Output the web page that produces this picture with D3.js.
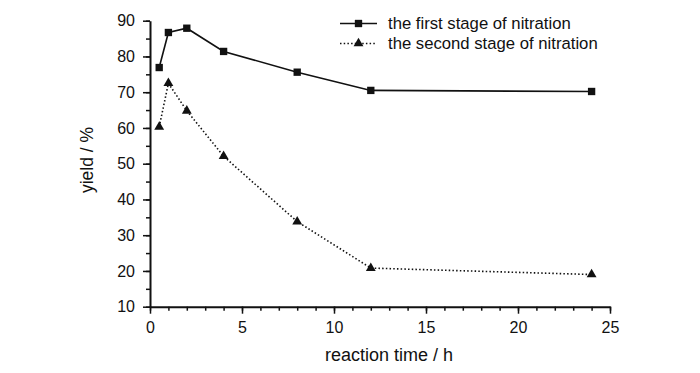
<!DOCTYPE html>
<html>
<head>
<meta charset="utf-8">
<script src="https://cdn.jsdelivr.net/npm/d3@7"></script>
<style>
  body { margin: 0; background: #fff; }
  text { font-family: "Liberation Sans", Arial, sans-serif; fill: #111; }
</style>
</head>
<body>
<div id="chart"></div>
<script>
// reaction time (h)
var times = [0.5, 1, 2, 4, 8, 12, 24];
// yield (%)
var firstStage = [76.9, 86.7, 87.9, 81.4, 75.6, 70.5, 70.2];
var secondStage = [60.3, 72.5, 64.8, 52.1, 33.8, 20.8, 19.0];
var seriesNames = ['the first stage of nitration', 'the second stage of nitration'];
var xTicks = [0, 5, 10, 15, 20, 25];
var yTicks = [10, 20, 30, 40, 50, 60, 70, 80, 90];

var width = 700, height = 373;
var margin = {left: 150, top: 20.7, right: 90, bottom: 66.3};

var svg = d3.select('#chart').append('svg')
    .attr('width', width)
    .attr('height', height);

var x = d3.scaleLinear().domain([0, 25]).range([margin.left, width - margin.right]);
var y = d3.scaleLinear().domain([10, 90]).range([height - margin.bottom, margin.top]);

// minor ticks
var xAxisMinor = d3.axisBottom(x).tickValues(d3.range(0, 26, 1)).tickSize(4).tickFormat('');
var yAxisMinor = d3.axisLeft(y).tickValues(d3.range(10, 91, 5)).tickSize(4).tickFormat('');

svg.append('g')
    .attr('transform', 'translate(0,' + y(10) + ')')
    .call(xAxisMinor)
    .call(g => g.select('.domain').remove())
    .selectAll('line').attr('stroke', '#111').attr('stroke-width', 1.5);

svg.append('g')
    .attr('transform', 'translate(' + x(0) + ',0)')
    .call(yAxisMinor)
    .call(g => g.select('.domain').remove())
    .selectAll('line').attr('stroke', '#111').attr('stroke-width', 1.5);

// major axes
var xAxis = d3.axisBottom(x).tickValues(xTicks).tickSize(7).tickSizeOuter(0).tickPadding(8);
var yAxis = d3.axisLeft(y).tickValues(yTicks).tickSize(7).tickSizeOuter(0).tickPadding(8);

var gx = svg.append('g')
    .attr('transform', 'translate(0,' + y(10) + ')')
    .call(xAxis);
var gy = svg.append('g')
    .attr('transform', 'translate(' + x(0) + ',0)')
    .call(yAxis);

[gx, gy].forEach(function (g) {
    g.select('.domain').attr('stroke', '#111').attr('stroke-width', 2);
    g.selectAll('.tick line').attr('stroke', '#111').attr('stroke-width', 1.5);
    g.selectAll('.tick text').style('font-size', '16px').attr('fill', '#111');
});

// axis titles
svg.append('text')
    .attr('x', 389)
    .attr('y', 361)
    .attr('text-anchor', 'middle')
    .style('font-size', '18px')
    .text('reaction time / h');

svg.append('text')
    .attr('transform', 'translate(93,160) rotate(-90)')
    .attr('text-anchor', 'middle')
    .style('font-size', '17.5px')
    .text('yield / %');

var line = d3.line()
    .x(function (d) { return x(d[0]); })
    .y(function (d) { return y(d[1]); });

var firstData = times.map(function (t, i) { return [t, firstStage[i]]; });
var secondData = times.map(function (t, i) { return [t, secondStage[i]]; });

svg.append('path')
    .datum(firstData)
    .attr('d', line)
    .attr('fill', 'none')
    .attr('stroke', '#111')
    .attr('stroke-width', 1.6);

svg.append('path')
    .datum(secondData)
    .attr('d', line)
    .attr('fill', 'none')
    .attr('stroke', '#111')
    .attr('stroke-width', 1.6)
    .attr('stroke-dasharray', '1.5,2.2');

var square = d3.symbol().type(d3.symbolSquare).size(54);
var triangle = d3.symbol().type(d3.symbolTriangle).size(42);

svg.selectAll('.sq')
    .data(firstData)
    .enter().append('path')
    .attr('class', 'sq')
    .attr('d', square)
    .attr('transform', function (d) { return 'translate(' + x(d[0]) + ',' + y(d[1]) + ')'; })
    .attr('fill', '#111');

svg.selectAll('.tri')
    .data(secondData)
    .enter().append('path')
    .attr('class', 'tri')
    .attr('d', triangle)
    .attr('transform', function (d) { return 'translate(' + x(d[0]) + ',' + y(d[1]) + ')'; })
    .attr('fill', '#111');

// legend
var legend = svg.append('g').attr('transform', 'translate(340,0)');
var rows = [{name: seriesNames[0], dash: null, sym: square, yy: 23.5},
            {name: seriesNames[1], dash: '1.5,2.2', sym: triangle, yy: 43.5}];

var item = legend.selectAll('.legendItem')
    .data(rows)
    .enter().append('g')
    .attr('class', 'legendItem')
    .attr('transform', function (d) { return 'translate(0,' + d.yy + ')'; });

item.append('line')
    .attr('x1', 0).attr('x2', 37)
    .attr('stroke', '#111')
    .attr('stroke-width', 1.6)
    .attr('stroke-dasharray', function (d) { return d.dash; });

item.append('path')
    .attr('d', function (d) { return d.sym(); })
    .attr('transform', 'translate(18.5,0)')
    .attr('fill', '#111');

item.append('text')
    .attr('x', 48)
    .attr('dy', '.35em')
    .style('font-size', '16.7px')
    .text(function (d) { return d.name; });
</script>
</body>
</html>
